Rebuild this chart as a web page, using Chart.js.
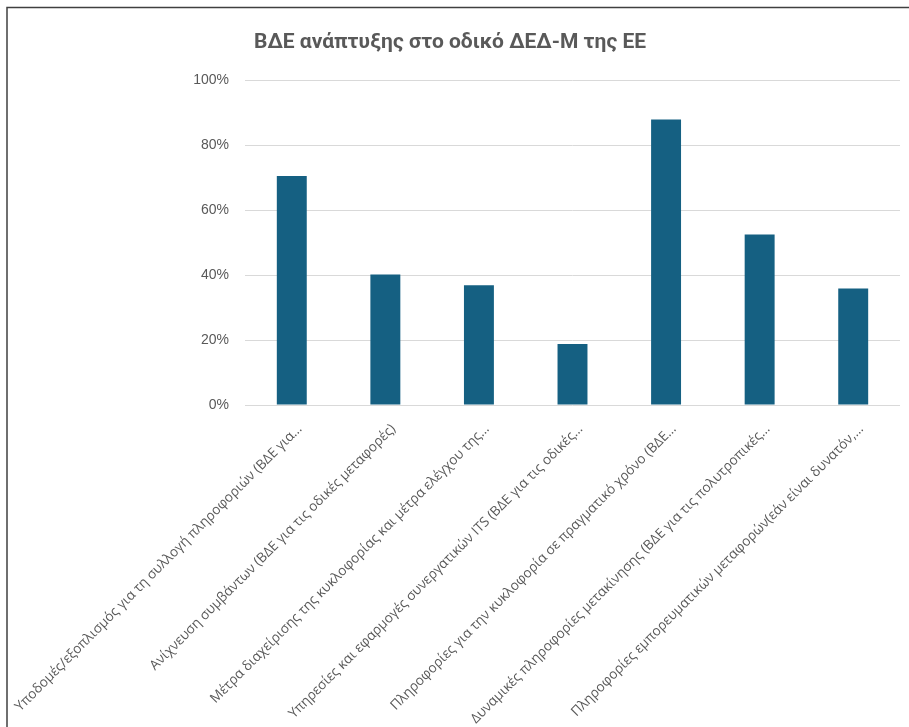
<!DOCTYPE html>
<html>
<head>
<meta charset="utf-8">
<script src="https://cdn.jsdelivr.net/npm/chart.js@4/dist/chart.umd.min.js"></script>
<style>
  body { margin: 0; background: #fff; }
  #wrap { width: 909px; height: 727px; }
</style>
</head>
<body>
<div id="wrap"><canvas id="bdeChart" width="909" height="727"></canvas></div>
<script>
var chartTitle = "ΒΔΕ ανάπτυξης στο οδικό ΔΕΔ-Μ της ΕΕ";

var categories = [
  "Υποδομές/εξοπλισμός για τη συλλογή πληροφοριών (ΒΔΕ για…",
  "Ανίχνευση συμβάντων (ΒΔΕ για τις οδικές μεταφορές)",
  "Μέτρα διαχείρισης της κυκλοφορίας και μέτρα ελέγχου της…",
  "Υπηρεσίες και εφαρμογές συνεργατικών ITS (ΒΔΕ για τις οδικές…",
  "Πληροφορίες για την κυκλοφορία σε πραγματικό χρόνο (ΒΔΕ…",
  "Δυναμικές πληροφορίες μετακίνησης (ΒΔΕ για τις πολυτροπικές…",
  "Πληροφορίες εμπορευματικών μεταφορών(εάν είναι δυνατόν,…"
];

// share of deployment, percent
var shares = [70.5, 40.2, 36.9, 18.8, 87.9, 52.5, 35.9];

var yTicks = [0, 20, 40, 60, 80, 100];

var textGrey = "#595959";

// thin frame on the left and top, like the original screenshot
var framePlugin = {
  id: "frame",
  beforeDraw: function(chart) {
    var ctx = chart.ctx;
    ctx.save();
    ctx.fillStyle = "#fff";
    ctx.fillRect(0, 0, chart.width, chart.height);
    ctx.strokeStyle = "#404040";
    ctx.lineWidth = 1.5;
    ctx.beginPath();
    ctx.moveTo(7, chart.height);
    ctx.lineTo(7, 7.5);
    ctx.lineTo(chart.width, 7.5);
    ctx.stroke();
    ctx.restore();
  }
};

var bdeCanv = document.getElementById("bdeChart");

var bdePlot = new Chart(bdeCanv, {
  type: 'bar',
  data: {
    labels: categories,
    datasets: [{
      label: 'ΒΔΕ',
      data: shares,
      backgroundColor: "#156082",
      borderWidth: 0,
      categoryPercentage: 1,
      barPercentage: 0.32
    }]
  },
  options: {
    responsive: false,
    animation: false,
    layout: { padding: { left: 0, right: 9, top: 0, bottom: 0 } },
    plugins: {
      legend: { display: false },
      tooltip: { enabled: false },
      title: {
        display: true,
        text: chartTitle,
        color: textGrey,
        font: { family: "Roboto", size: 21, weight: "bold" },
        padding: { top: 30, bottom: 25 }
      }
    },
    scales: {
      x: {
        grid: { display: false },
        border: { display: false },
        ticks: {
          color: textGrey,
          font: { family: "Open Sans", size: 13.6 },
          minRotation: 45,
          maxRotation: 45,
          autoSkip: false,
          padding: 8,
          labelOffset: 8
        },
        afterFit: function(scale) {
          scale.height = 322;
          scale.paddingLeft = 0;
          scale.paddingRight = 0;
        }
      },
      y: {
        min: 0,
        max: 100,
        afterBuildTicks: function(scale) {
          scale.ticks = yTicks.map(function(v) { return { value: v }; });
        },
        grid: { color: "#d9d9d9", lineWidth: 1, drawTicks: false },
        border: { display: false },
        ticks: {
          color: textGrey,
          font: { family: "Liberation Sans", size: 14 },
          padding: 16,
          callback: function(v) { return v + "%"; }
        },
        afterFit: function(scale) {
          scale.width = 245;
        }
      }
    }
  },
  plugins: [framePlugin]
});
</script>
</body>
</html>
